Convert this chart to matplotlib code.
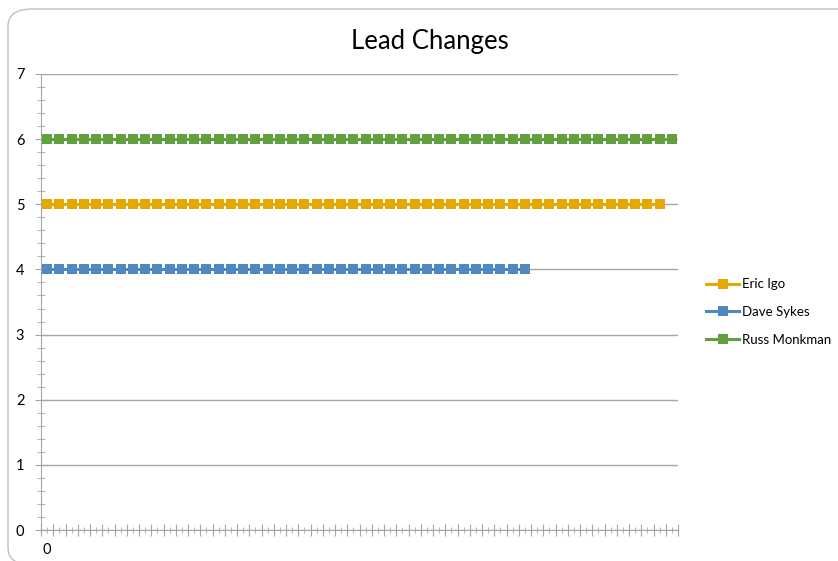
import matplotlib
matplotlib.use('Agg')
import matplotlib.pyplot as plt
from matplotlib.patches import FancyBboxPatch
from matplotlib.ticker import MultipleLocator

plt.rcParams['font.family'] = ['Lato', 'DejaVu Sans']

# data (one value per category)
eric_igo = [5, 5, 5, 5, 5, 5, 5, 5, 5, 5, 5, 5, 5, 5, 5, 5, 5, 5, 5, 5, 5, 5, 5, 5, 5, 5,
            5, 5, 5, 5, 5, 5, 5, 5, 5, 5, 5, 5, 5, 5, 5, 5, 5, 5, 5, 5, 5, 5, 5, 5, 5]
dave_sykes = [4, 4, 4, 4, 4, 4, 4, 4, 4, 4, 4, 4, 4, 4, 4, 4, 4, 4, 4, 4,
              4, 4, 4, 4, 4, 4, 4, 4, 4, 4, 4, 4, 4, 4, 4, 4, 4, 4, 4, 4]
russ_monkman = [6, 6, 6, 6, 6, 6, 6, 6, 6, 6, 6, 6, 6, 6, 6, 6, 6, 6, 6, 6, 6, 6, 6, 6, 6, 6,
                6, 6, 6, 6, 6, 6, 6, 6, 6, 6, 6, 6, 6, 6, 6, 6, 6, 6, 6, 6, 6, 6, 6, 6, 6, 6]
n_cats = 52
x_labels = ['0'] + [''] * (n_cats - 1)

series = [('Eric Igo', eric_igo, '#E5A800'),
          ('Dave Sykes', dave_sykes, '#4F88C2'),
          ('Russ Monkman', russ_monkman, '#62A03E')]

fig = plt.figure(figsize=(8.38, 5.61), dpi=100)

# chart border (rounded, runs off the right and bottom edges like the original)
border = FancyBboxPatch((8 / 838, -4 / 561), 1.2, 556 / 561,
                        boxstyle='round,pad=0,rounding_size=0.03',
                        transform=fig.transFigure, fill=False,
                        edgecolor='#BFBFBF', linewidth=1)
fig.patches.append(border)

ax = fig.add_axes([41 / 838, 31 / 561, 637 / 838, 456 / 561])

handles = []
for name, vals, col in series:
    xs = list(range(len(vals)))
    h, = ax.plot(xs, vals, color=col, linewidth=2.2, marker='s',
                 markersize=6.5, markeredgewidth=0, label=name, zorder=3)
    handles.append(h)

ax.set_xlim(-0.5, n_cats - 0.5)
ax.set_ylim(0, 7)

ax.yaxis.set_major_locator(MultipleLocator(1))
ax.yaxis.set_minor_locator(MultipleLocator(0.2))
ax.grid(axis='y', which='major', color='#A6A6A6', linewidth=1, zorder=1)

ax.set_xticks([i - 0.5 for i in range(n_cats + 1)])
ax.set_xticklabels([''] * (n_cats + 1))
ax.set_xticks(list(range(n_cats)), minor=True)
ax.set_xticklabels(x_labels, minor=True)

for s in ['top', 'right']:
    ax.spines[s].set_visible(False)
for s in ['left', 'bottom']:
    ax.spines[s].set_color('#A6A6A6')

ax.tick_params(axis='y', which='major', direction='inout', length=8, color='#A6A6A6',
               labelsize=10.5, pad=8)
ax.tick_params(axis='y', which='minor', direction='inout', length=6, color='#A6A6A6')
ax.tick_params(axis='x', which='major', direction='inout', length=8, color='#A6A6A6')
ax.tick_params(axis='x', which='minor', direction='inout', length=5, color='#A6A6A6',
               labelsize=10.5, pad=7)

fig.text(430 / 838, 1 - 41 / 561, 'Lead Changes', ha='center', va='center', fontsize=18.5)

fig.legend(handles=handles, loc='center left', bbox_to_anchor=(701 / 838, 1 - 312 / 561),
           frameon=False, fontsize=9.5, handlelength=2.5, labelspacing=1.2,
           handletextpad=0.2, borderaxespad=0)

fig.savefig('out.png', dpi=100)
